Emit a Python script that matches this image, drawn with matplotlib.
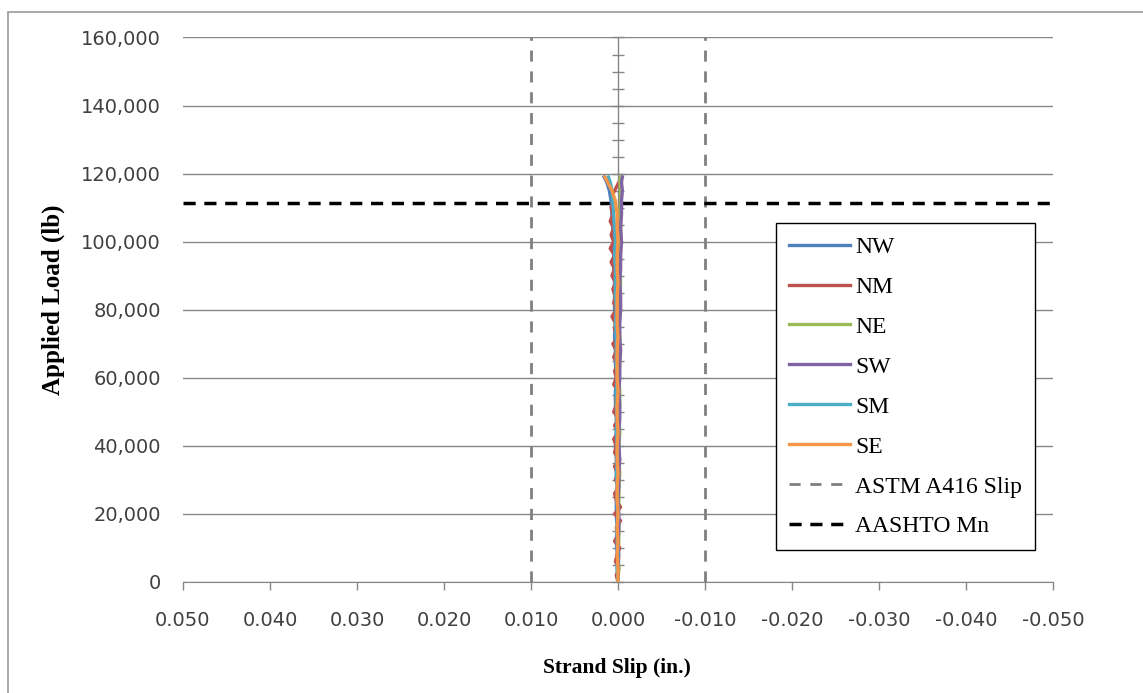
import numpy as np
import matplotlib
matplotlib.use("Agg")
import matplotlib.pyplot as plt
from matplotlib.patches import Rectangle

# applied load (lb) for the smoother gauges
load = [0, 4000, 8000, 12000, 16000, 20000, 24000, 28000, 32000, 36000,
        40000, 44000, 48000, 52000, 56000, 60000, 64000, 68000, 72000, 76000,
        80000, 84000, 88000, 92000, 96000, 100000, 104000, 108000, 112000,
        115000, 117500, 119000]

# strand slip (in.)
nw = [0.0000, 0.0001, 0.0001, 0.0002, 0.0001, 0.0002, 0.0002, 0.0001, 0.0002, 0.0002,
      0.0003, 0.0002, 0.0002, 0.0003, 0.0003, 0.0002, 0.0003, 0.0003, 0.0004, 0.0003,
      0.0004, 0.0004, 0.0004, 0.0005, 0.0005, 0.0005, 0.0006, 0.0007, 0.0008,
      0.0010, 0.0013, 0.0016]
ne = [0.0000, -0.0001, 0.0000, -0.0001, -0.0001, 0.0000, -0.0001, -0.0001, -0.0002, -0.0001,
      -0.0001, -0.0002, -0.0001, -0.0002, -0.0002, -0.0001, -0.0002, -0.0002, -0.0002, -0.0001,
      -0.0002, -0.0002, -0.0003, -0.0002, -0.0002, -0.0003, -0.0003, -0.0002, -0.0003,
      -0.0003, -0.0002, -0.0003]
sw = [0.0000, 0.0000, -0.0001, 0.0000, -0.0001, -0.0001, 0.0000, -0.0001, -0.0001, -0.0002,
      -0.0001, -0.0001, -0.0002, -0.0002, -0.0001, -0.0002, -0.0002, -0.0003, -0.0002, -0.0002,
      -0.0003, -0.0003, -0.0002, -0.0003, -0.0003, -0.0004, -0.0003, -0.0004, -0.0004,
      -0.0005, -0.0004, -0.0005]
sm = [0.0000, 0.0001, 0.0000, 0.0001, 0.0001, 0.0000, 0.0001, 0.0001, 0.0002, 0.0001,
      0.0001, 0.0002, 0.0001, 0.0002, 0.0002, 0.0001, 0.0002, 0.0002, 0.0002, 0.0003,
      0.0002, 0.0003, 0.0003, 0.0003, 0.0004, 0.0003, 0.0004, 0.0005, 0.0006,
      0.0007, 0.0009, 0.0011]
se = [0.0000, 0.0000, 0.0001, 0.0000, 0.0001, 0.0000, 0.0001, 0.0001, 0.0000, 0.0001,
      0.0001, 0.0000, 0.0001, 0.0001, 0.0000, 0.0001, 0.0001, 0.0001, 0.0000, 0.0001,
      0.0001, 0.0001, 0.0000, 0.0001, 0.0001, 0.0000, 0.0001, 0.0001, 0.0003,
      0.0007, 0.0012, 0.0015]

# the NM gauge was noisy, so it is read at a finer load step
load_nm = [0, 2000, 4000, 6000, 8000, 10000, 12000, 14000, 16000, 18000,
           20000, 22000, 24000, 26000, 28000, 30000, 32000, 34000, 36000, 38000,
           40000, 42000, 44000, 46000, 48000, 50000, 52000, 54000, 56000, 58000,
           60000, 62000, 64000, 66000, 68000, 70000, 72000, 74000, 76000, 78000,
           80000, 82000, 84000, 86000, 88000, 90000, 92000, 94000, 96000, 98000,
           100000, 102000, 104000, 106000, 108000, 110000, 112000, 114000, 116000, 118000]
nm = [0.0000, 0.0002, -0.0001, 0.0003, 0.0001, -0.0002, 0.0004, 0.0000, 0.0002, -0.0003,
      0.0004, -0.0003, 0.0002, 0.0004, -0.0001, 0.0003, 0.0001, 0.0004, -0.0002, 0.0004,
      0.0002, 0.0005, 0.0000, 0.0004, -0.0001, 0.0005, 0.0002, 0.0003, -0.0001, 0.0005,
      0.0002, 0.0004, 0.0000, 0.0005, 0.0002, 0.0006, -0.0001, 0.0004, 0.0003, 0.0007,
      0.0002, 0.0005, 0.0003, 0.0006, 0.0003, 0.0007, 0.0004, 0.0008, 0.0004, 0.0009,
      0.0005, 0.0008, 0.0005, 0.0009, 0.0006, 0.0008, 0.0005, 0.0006, 0.0002, -0.0002]

astm_slip = 0.010
aashto_mn = 111500

xticks = [0.05, 0.04, 0.03, 0.02, 0.01, 0.0, -0.01, -0.02, -0.03, -0.04, -0.05]
yticks = [0, 20000, 40000, 60000, 80000, 100000, 120000, 140000, 160000]

colors = {"NW": "#4F81BD", "NM": "#C0504D", "NE": "#9BBB59",
          "SW": "#8064A2", "SM": "#4BACC6", "SE": "#F79646"}

serif = "Liberation Serif"
grid_c = "#868686"
text_c = "#404040"

fig = plt.figure(figsize=(11.43, 6.93), dpi=100)
ax = fig.add_axes([0.1601, 0.1602, 0.7612, 0.7857])

ax.plot(nw, load, color=colors["NW"], lw=2.4, label="NW", zorder=3)
ax.plot(nm, load_nm, color=colors["NM"], lw=2.4, label="NM", zorder=3)
ax.plot(ne, load, color=colors["NE"], lw=2.4, label="NE", zorder=3)
ax.plot(sw, load, color=colors["SW"], lw=2.4, label="SW", zorder=3)
ax.plot(sm, load, color=colors["SM"], lw=2.4, label="SM", zorder=3)
ax.plot(se, load, color=colors["SE"], lw=2.4, label="SE", zorder=3)

ax.axvline(astm_slip, color="#808080", lw=2, ls=(0, (4, 3.5)), label="ASTM A416 Slip", zorder=2)
ax.axvline(-astm_slip, color="#808080", lw=2, ls=(0, (4, 3.5)), zorder=2)
ax.axhline(aashto_mn, color="black", lw=2.5, ls=(0, (3.5, 2.5)), label="AASHTO Mn", zorder=2)

ax.set_xlim(0.05, -0.05)
ax.set_ylim(0, 160000)
ax.set_xticks(xticks)
ax.set_yticks(yticks)
ax.set_xticklabels([f"{v:.3f}" for v in xticks])
ax.set_yticklabels([f"{v:,}" for v in yticks])
ax.yaxis.grid(True, color=grid_c, lw=1, zorder=0)
ax.set_axisbelow(True)

for side in ["top", "right", "left"]:
    ax.spines[side].set_visible(False)
ax.spines["bottom"].set_color(grid_c)
ax.tick_params(axis="x", direction="out", length=6, color=grid_c, width=1,
               labelsize=14, labelcolor=text_c, pad=15)
ax.tick_params(axis="y", length=0, labelsize=14, labelcolor=text_c, pad=16)

# vertical value axis crosses at zero slip
yaxis0 = ax.secondary_yaxis(0.5)
yaxis0.spines["right"].set_visible(False)
yaxis0.spines["left"].set_visible(False)
yaxis0.set_yticks(np.arange(0, 160001, 5000))
yaxis0.tick_params(direction="inout", length=9, color=grid_c, width=1,
                   labelleft=False, labelright=False, left=True, right=False)
ax.axvline(0, color=grid_c, lw=1, zorder=1)

leg = ax.legend(loc="upper left", bbox_to_anchor=(0.6816, 0.6587), frameon=True,
                fancybox=False, edgecolor="black", framealpha=1,
                prop={"family": serif, "size": 17}, handlelength=2.6,
                labelspacing=0.78, borderpad=0.55, handletextpad=0.2,
                borderaxespad=0)
leg.get_frame().set_linewidth(1)
leg.set_zorder(5)

fig.text(53 / 1143, 1 - 300 / 693, "Applied Load (lb)", rotation=90, ha="center",
         va="center", family=serif, weight="bold", fontsize=18)
fig.text(617 / 1143, 1 - 668 / 693, "Strand Slip (in.)", ha="center", va="center",
         family=serif, weight="bold", fontsize=15.5)

fig.patches.append(Rectangle((8 / 1143, -0.1), 1.2, 1 - 12 / 693 + 0.1,
                             transform=fig.transFigure, fill=False,
                             edgecolor="#9a9a9a", lw=1.2))

fig.savefig("out.png", dpi=100)
